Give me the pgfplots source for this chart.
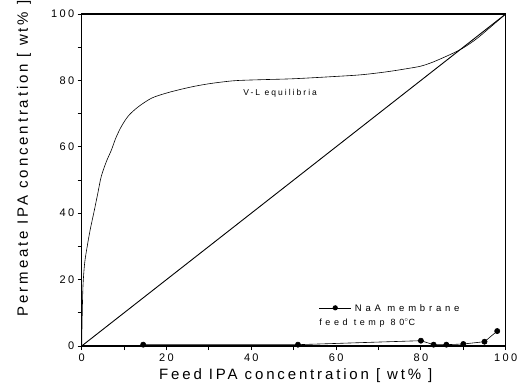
\documentclass[border=0pt]{standalone}
\usepackage{fontspec}
\setmainfont{Liberation Sans}
\newfontfamily\spaced[LetterSpace=21]{Liberation Sans}
\newfontfamily\note[LetterSpace=24]{Liberation Sans}
\newfontfamily\wide[LetterSpace=19]{Liberation Sans}
\newfontfamily\wider[LetterSpace=40]{Liberation Sans}
\usepackage{pgfplots}
\pgfplotsset{compat=1.18}

\begin{document}
\begin{tikzpicture}
\useasboundingbox (0pt,0pt) rectangle (518pt,390pt);
\begin{axis}[
  at={(81.7pt,44pt)}, anchor=origin,
  scale only axis, width=424pt, height=332pt,
  xmin=0, xmax=100, ymin=0, ymax=100,
  xtick={0,20,...,100}, ytick={0,20,...,100},
  minor xtick={10,30,...,90}, minor ytick={10,30,...,90},
  tick align=outside, tick pos=left,
  major tick length=4pt, minor tick length=4pt,
  axis line style={line width=1.3pt},
  every tick/.style={black, line width=0.9pt},
  /pgf/number format/assume math mode=true,
  ticklabel style={font=\spaced\fontsize{11}{13}\selectfont},
  xlabel={Feed IPA concentration [ wt\% ]},
  ylabel={Permeate IPA concentration [ wt\% ]},
  every axis x label/.style={at={(axis description cs:0.505,-0.102)}, anchor=base,
    font=\wide\fontsize{15}{17}\selectfont},
  every axis y label/.style={at={(axis description cs:-0.127,0.565)}, anchor=base, rotate=90,
    font=\wide\fontsize{15}{17}\selectfont},
  clip=false,
]
% diagonal x = y
\addplot[black, line width=0.9pt] coordinates {(0,0) (100,100)};
% vapour-liquid equilibrium curve
\addplot[black, line width=0.6pt, smooth] coordinates {
  (0,0) (0.1,8) (0.3,18) (0.7,25) (1.3,30) (2,35) (3,41) (3.8,46)
  (4.6,51) (5.8,55.5) (7,59) (8,62.5) (9.3,66) (11,69.3) (13.3,72)
  (16.4,74.6) (19.5,76) (22.7,77.1) (26.5,78.2) (30.6,79.1) (36,79.9)
  (42,80.2) (50,80.5) (60,81.2) (66,81.7) (72,82.6) (77,83.6) (80,84.3)
  (83,85.6) (87.6,88.2) (90,89.8) (93,92.4) (96,95.6) (100,100)};
% NaA membrane, feed at 80 C
\addplot[black, line width=0.6pt, mark=*, mark size=2.6pt] coordinates {
  (14.5,0.4) (51,0.4) (80,1.6) (83,0.4) (86,0.4) (90,0.6) (95,1.3) (98,4.5)};
\node[font=\note\fontsize{8.5}{10}\selectfont] at (axis cs:46.8,76.2) {V-L equilibria};
% legend entry
\draw[black, line width=0.6pt] (axis cs:56,11.5) -- (axis cs:63.5,11.5);
\fill[black] (axis cs:59.8,11.5) circle (2.6pt);
\node[anchor=west, font=\wider\fontsize{9.5}{11}\selectfont, inner sep=0pt] at (axis cs:64.4,11.5) {NaA membrane};
\node[anchor=west, font=\wider\fontsize{9}{11}\selectfont, inner sep=0pt] at (axis cs:56,7.0) {feed temp 80$^\circ$C};
\end{axis}
\end{tikzpicture}
\end{document}
